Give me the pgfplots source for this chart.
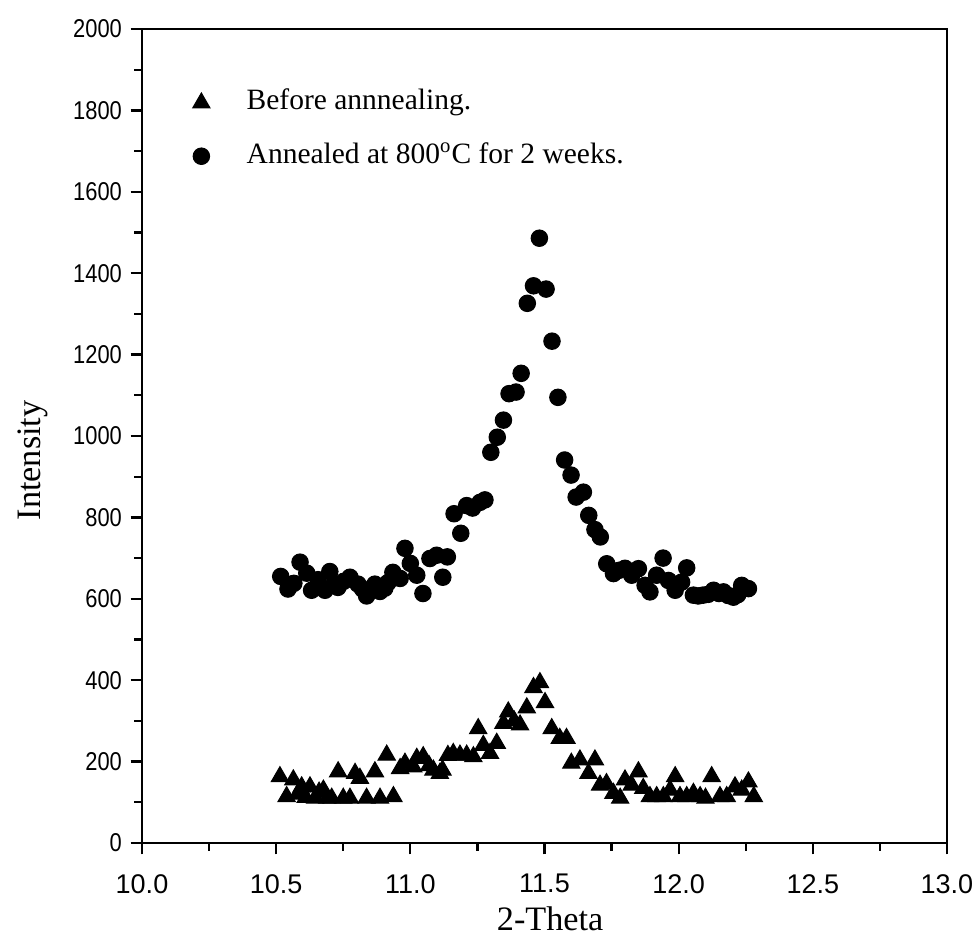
\documentclass[border=0pt]{standalone}
\usepackage{fontspec}
\setmainfont{Liberation Serif}
\newfontfamily\tickfont[FakeStretch=0.85]{Liberation Sans}
\newfontfamily\xtickfont{Liberation Sans}
\usepackage{pgfplots}
\pgfplotsset{compat=1.18}

\pgfplotstableread{
x y
10.514 163
10.539 114
10.564 155
10.580 120
10.595 138
10.610 112
10.626 138
10.645 110
10.660 125
10.676 130
10.690 110
10.707 110
10.731 175
10.750 110
10.775 110
10.794 171
10.812 159
10.837 110
10.868 175
10.887 110
10.912 216
10.937 114
10.962 183
10.980 196
11.011 187
11.024 208
11.048 212
11.070 190
11.086 179
11.110 171
11.120 179
11.140 215
11.160 220
11.185 216
11.210 216
11.235 212
11.253 281
11.272 240
11.297 220
11.322 245
11.347 294
11.365 322
11.387 300
11.409 290
11.434 332
11.459 382
11.483 394
11.502 345
11.527 281
11.557 257
11.582 257
11.600 196
11.632 204
11.664 171
11.688 204
11.707 142
11.731 146
11.757 122
11.782 110
11.800 155
11.825 142
11.850 175
11.868 134
11.893 114
11.918 114
11.943 114
11.968 130
11.987 163
12.005 114
12.030 114
12.055 122
12.080 114
12.100 110
12.123 163
12.154 114
12.179 114
12.210 138
12.235 130
12.260 150
12.280 114
}\before

\pgfplotstableread{
x y
10.517 655
10.544 624
10.566 638
10.589 690
10.614 663
10.632 621
10.656 647
10.682 621
10.700 667
10.716 636
10.730 628
10.752 643
10.775 653
10.805 636
10.822 624
10.837 607
10.868 636
10.887 618
10.905 626
10.917 640
10.935 665
10.962 650
10.980 724
11.000 687
11.024 658
11.047 613
11.073 699
11.098 707
11.121 653
11.138 703
11.163 809
11.188 761
11.210 829
11.232 823
11.260 837
11.278 843
11.300 960
11.324 997
11.347 1039
11.368 1104
11.394 1108
11.413 1154
11.436 1326
11.459 1369
11.481 1486
11.506 1361
11.528 1233
11.550 1095
11.575 941
11.599 904
11.618 850
11.645 862
11.665 805
11.688 770
11.708 752
11.732 686
11.757 662
11.778 670
11.800 675
11.825 658
11.850 674
11.875 633
11.893 617
11.918 658
11.942 700
11.962 645
11.987 621
12.011 641
12.030 676
12.055 609
12.073 607
12.091 609
12.110 611
12.130 621
12.150 613
12.167 617
12.185 608
12.204 604
12.220 610
12.235 633
12.260 625
}\annealed

\begin{document}
\begin{tikzpicture}
\begin{axis}[
  at={(0pt,0pt)}, anchor=south west,
  scale only axis, width=322pt, height=325.6pt,
  xmin=10, xmax=13, ymin=0, ymax=2000,
  xtick={10,10.5,...,13}, ytick={0,200,...,2000},
  minor x tick num=1, minor y tick num=1,
  tick align=outside, xtick pos=bottom, ytick pos=left,
  major tick length=4.5pt, minor tick length=3pt,
  axis line style={line width=1pt},
  every tick/.style={line width=0.9pt, black},
  scaled ticks=false,
  /pgf/number format/assume math mode=true,
  /pgf/number format/1000 sep={},
  yticklabel style={font=\tickfont\fontsize{10.3}{12}\selectfont},
  xticklabel style={font=\xtickfont\fontsize{10.8}{13}\selectfont, yshift=-4.5pt,
    /pgf/number format/.cd, fixed, fixed zerofill, precision=1},
  label style={font=\fontsize{13.7}{16}\selectfont},
  xlabel={2-Theta}, ylabel={Intensity},
  xlabel style={at={(axis description cs:0.507,-0.093)}, anchor=center},
  ylabel style={at={(axis description cs:-0.136,0.47)}, anchor=center},
  legend cell align=left,
  legend image code/.code={\path (0cm,0cm) (0.86cm,0cm); \draw[#1] plot coordinates {(0.3cm,0cm)};},
  legend style={draw=none, fill=none, at={(axis description cs:0.046,0.932)}, anchor=north west,
    inner sep=0pt, row sep=6.8pt, column sep=0pt,
    font=\fontsize{11.8}{13}\selectfont,
    nodes={inner sep=2pt, text height=8pt, text depth=2.5pt}},
]
\addplot[only marks, mark=triangle*, mark size=4pt, black] table[x=x,y=y] {\before};
\addlegendentry{Before annnealing.}
\addplot[only marks, mark=*, mark size=3.3pt, black] table[x=x,y=y] {\annealed};
\addlegendentry{Annealed at 800\textsuperscript{o}C for 2 weeks.}
\end{axis}
\pgfresetboundingbox
\path[use as bounding box] (-56.8pt,-40.8pt) rectangle (334.8pt,337.2pt);
\end{tikzpicture}
\end{document}
